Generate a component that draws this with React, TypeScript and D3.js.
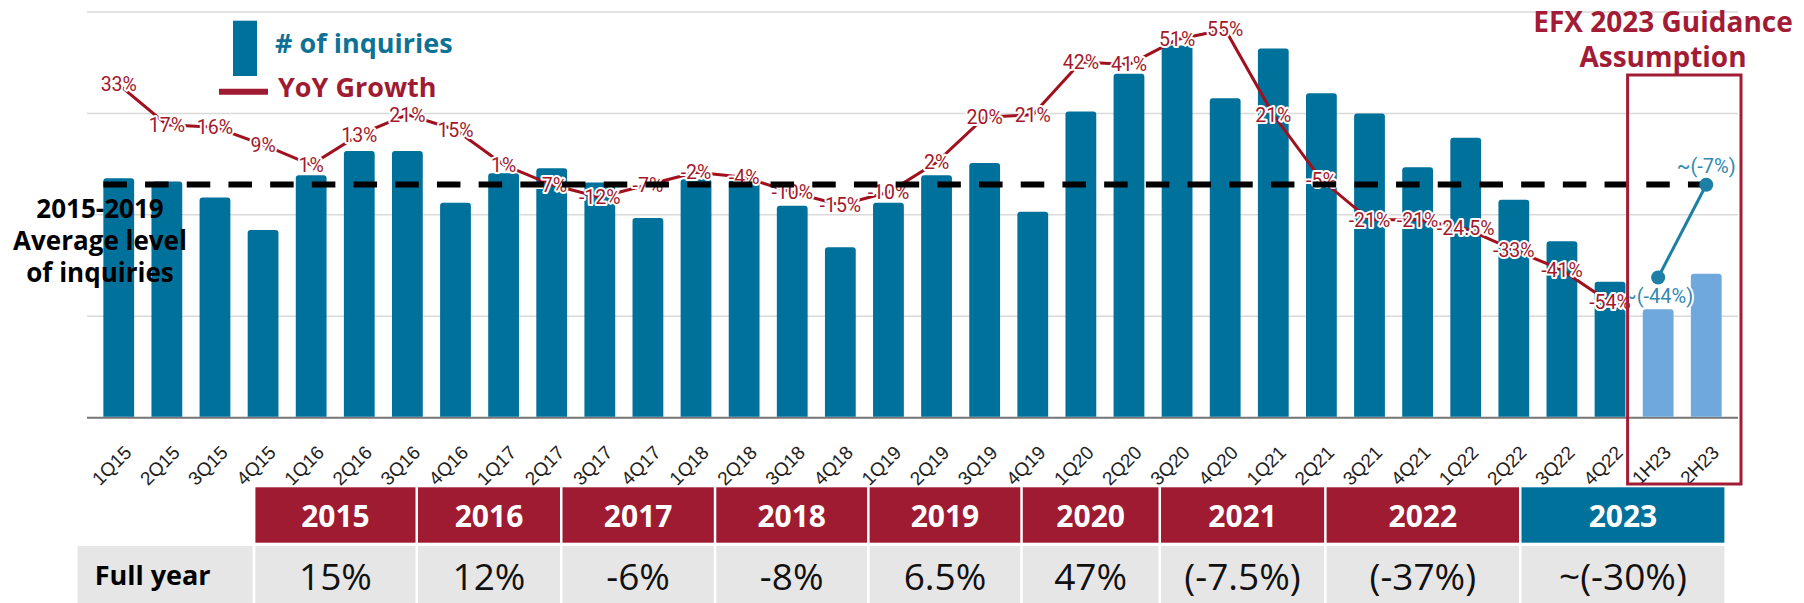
import React from 'react';
import * as d3 from 'd3';

// ---------- data ----------
const categories = [
  '1Q15', '2Q15', '3Q15', '4Q15', '1Q16', '2Q16', '3Q16', '4Q16',
  '1Q17', '2Q17', '3Q17', '4Q17', '1Q18', '2Q18', '3Q18', '4Q18',
  '1Q19', '2Q19', '3Q19', '4Q19', '1Q20', '2Q20', '3Q20', '4Q20',
  '1Q21', '2Q21', '3Q21', '4Q21', '1Q22', '2Q22', '3Q22', '4Q22',
  '1H23', '2H23',
];
const inquiries = [
  236, 233, 217, 185, 239, 263, 263, 212,
  241, 246, 232, 197, 235, 234, 209, 168,
  212, 239, 251, 203, 302, 339, 367, 315,
  364, 320, 300, 247, 276, 215, 174, 134,
  107, 142,
];
const guidanceCategories = ['1H23', '2H23'];
const yoyGrowth = [
  33, 17, 16, 9, 1, 13, 21, 15,
  1, -7, -12, -7, -2, -4, -10, -15,
  -10, 2, 20, 21, 42, 41, 51, 55,
  21, -5, -21, -21, -24.5, -33, -41, -54,
];
const guidanceGrowth = [-44, -7];
const guidanceLabels = ['~(-44%)', '~(-7%)'];
const avgLevel = 230;
const gridTicks = [100, 200, 300, 400];
const years = ['2015', '2016', '2017', '2018', '2019', '2020', '2021', '2022', '2023'];
const fullYear = ['15%', '12%', '-6%', '-8%', '6.5%', '47%', '(-7.5%)', '(-37%)', '~(-30%)'];

// ---------- layout ----------
const W = 1804;
const H = 603;
const PL = 87, PR = 1738, PT = 12, PB = 417.7;
const tableEdges = [255.4, 418, 562.5, 716.3, 869.6, 1022.8, 1161, 1326.6, 1521.5, 1726.9];

const TEAL = '#00719A';
const LIGHT = '#6FA8DC';
const RED = '#9E1B32';
const LINE_RED = '#A0101E';
const LABEL_RED = '#A3192C';
const GUIDE = '#1E7FA6';

function topRounded(x: number, y: number, w: number, h: number, r: number) {
  const p = d3.path();
  p.moveTo(x, y + h);
  p.lineTo(x, y + r);
  p.quadraticCurveTo(x, y, x + r, y);
  p.lineTo(x + w - r, y);
  p.quadraticCurveTo(x + w, y, x + w, y + r);
  p.lineTo(x + w, y + h);
  p.closePath();
  return p.toString();
}

export default function App() {
  const x = d3.scaleBand<string>().domain(categories).range([PL, PR]).paddingInner(0.36).paddingOuter(0.34);
  const y = d3.scaleLinear().domain([0, 400]).range([PB, PT]);
  const yl = d3.scaleLinear().domain([-100, 62]).range([PB, PT]);
  const bw = x.bandwidth();
  const cx = (c: string) => (x(c) as number) + bw / 2;

  const quarterCats = categories.slice(0, yoyGrowth.length);
  const line = d3.line<number>().x((_, i) => cx(quarterCats[i])).y((d) => yl(d));
  const gLine = d3.line<number>().x((_, i) => cx(guidanceCategories[i])).y((d) => yl(d));

  const dashX1 = x(categories[0]) as number;
  const dashX2 = (x(categories[categories.length - 1]) as number) + bw + 2;

  const halo = {
    stroke: '#fff',
    strokeWidth: 4,
    paintOrder: 'stroke' as const,
    strokeLinejoin: 'round' as const,
  };

  return (
    <svg width={W} height={H} style={{ position: 'absolute', left: 0, top: 0, background: '#fff' }}>
      {/* gridlines */}
      {gridTicks.map((t) => (
        <line key={t} x1={PL} x2={PR} y1={y(t)} y2={y(t)} stroke="#D9D9D9" strokeWidth={1.5} />
      ))}
      <line x1={PL} x2={PR} y1={y(0)} y2={y(0)} stroke="#767676" strokeWidth={2} />

      {/* bars */}
      {categories.map((c, i) => (
        <path
          key={c}
          d={topRounded(x(c) as number, y(inquiries[i]), bw, y(0) - y(inquiries[i]) - 1, 3)}
          fill={guidanceCategories.includes(c) ? LIGHT : TEAL}
        />
      ))}

      {/* x labels */}
      {categories.map((c) => (
        <text
          key={c}
          transform={`translate(${cx(c) + 14},${PB + 36}) rotate(-45)`}
          textAnchor="end"
          fontFamily="'Liberation Sans', Arial, sans-serif"
          fontSize={19}
          fill="#222"
        >
          {c}
        </text>
      ))}

      {/* YoY line */}
      <path d={line(yoyGrowth) as string} fill="none" stroke={LINE_RED} strokeWidth={3} />
      {yoyGrowth.map((v, i) => (
        <text
          key={i}
          x={cx(quarterCats[i])}
          y={yl(v)}
          dy="0.35em"
          textAnchor="middle"
          fontFamily="Roboto, sans-serif"
          fontSize={19.5}
          fill={LABEL_RED}
          {...halo}
        >
          {`${v}%`}
        </text>
      ))}

      {/* average dashed line */}
      <line
        x1={dashX1}
        x2={dashX2}
        y1={y(avgLevel)}
        y2={y(avgLevel)}
        stroke="#000"
        strokeWidth={6}
        strokeDasharray="23.5 18.2"
      />

      {/* guidance */}
      <path d={gLine(guidanceGrowth) as string} fill="none" stroke={GUIDE} strokeWidth={3} />
      {guidanceGrowth.map((v, i) => (
        <circle key={i} cx={cx(guidanceCategories[i])} cy={yl(v)} r={7} fill={GUIDE} />
      ))}
      {guidanceGrowth.map((v, i) => (
        <text
          key={i}
          x={cx(guidanceCategories[i])}
          y={yl(v) + (i === 0 ? 19 : -19)}
          dy="0.35em"
          textAnchor="middle"
          fontFamily="Roboto, sans-serif"
          fontSize={20}
          fill="#3289B2"
          {...halo}
        >
          {guidanceLabels[i]}
        </text>
      ))}
      {/* redraw -54% label on top */}
      <text
        x={cx(quarterCats[quarterCats.length - 1])}
        y={yl(yoyGrowth[yoyGrowth.length - 1])}
        dy="0.35em"
        textAnchor="middle"
        fontFamily="Roboto, sans-serif"
        fontSize={19.5}
        fill={LABEL_RED}
        {...halo}
      >
        {`${yoyGrowth[yoyGrowth.length - 1]}%`}
      </text>

      {/* guidance box */}
      <rect x={1627.6} y={75} width={113.4} height={409} fill="none" stroke="#A21C36" strokeWidth={3} />
      <text
        x={1663}
        textAnchor="middle"
        fontFamily="'Open Sans', sans-serif"
        fontWeight={700}
        fontSize={28}
        fill="#A21C36"
      >
        <tspan x={1663} y={32.3}>EFX 2023 Guidance</tspan>
        <tspan x={1663} y={66.7}>Assumption</tspan>
      </text>

      {/* legend */}
      <rect x={233} y={20.7} width={24} height={55.3} fill={TEAL} />
      <text x={275} y={53.3} fontFamily="'Open Sans', sans-serif" fontWeight={700} fontSize={27} fill="#0E7296">
        # of inquiries
      </text>
      <line x1={219} x2={268} y1={91.7} y2={91.7} stroke={RED} strokeWidth={6} />
      <text x={278} y={97.3} fontFamily="'Open Sans', sans-serif" fontWeight={700} fontSize={27} fill={RED}>
        YoY Growth
      </text>

      {/* avg label */}
      <text textAnchor="middle" fontFamily="'Open Sans', sans-serif" fontWeight={700} fontSize={26} fill="#000">
        <tspan x={100} y={218.3}>2015-2019</tspan>
        <tspan x={100} y={250}>Average level</tspan>
        <tspan x={100} y={281.7}>of inquiries</tspan>
      </text>

      {/* table */}
      {years.map((yr, i) => {
        const x0 = tableEdges[i];
        const x1 = tableEdges[i + 1] - 2.5;
        return (
          <g key={yr}>
            <rect x={x0} y={487.3} width={x1 - x0} height={55.4} fill={yr === '2023' ? TEAL : RED} />
            <text
              x={(x0 + x1) / 2}
              y={526.5}
              textAnchor="middle"
              fontFamily="'Open Sans', sans-serif"
              fontWeight={700}
              fontSize={30}
              fill="#fff"
            >
              {yr}
            </text>
            <rect x={x0} y={546} width={x1 - x0} height={H - 546} fill="#E7E6E6" />
            <text
              x={(x0 + x1) / 2}
              y={590}
              textAnchor="middle"
              fontFamily="'Open Sans', sans-serif"
              fontSize={37}
              fill="#111"
            >
              {fullYear[i]}
            </text>
          </g>
        );
      })}
      <rect x={77.5} y={546} width={175.1} height={H - 546} fill="#E7E6E6" />
      <text x={94.7} y={585} fontFamily="'Open Sans', sans-serif" fontWeight={700} fontSize={27} fill="#000">
        Full year
      </text>
    </svg>
  );
}
